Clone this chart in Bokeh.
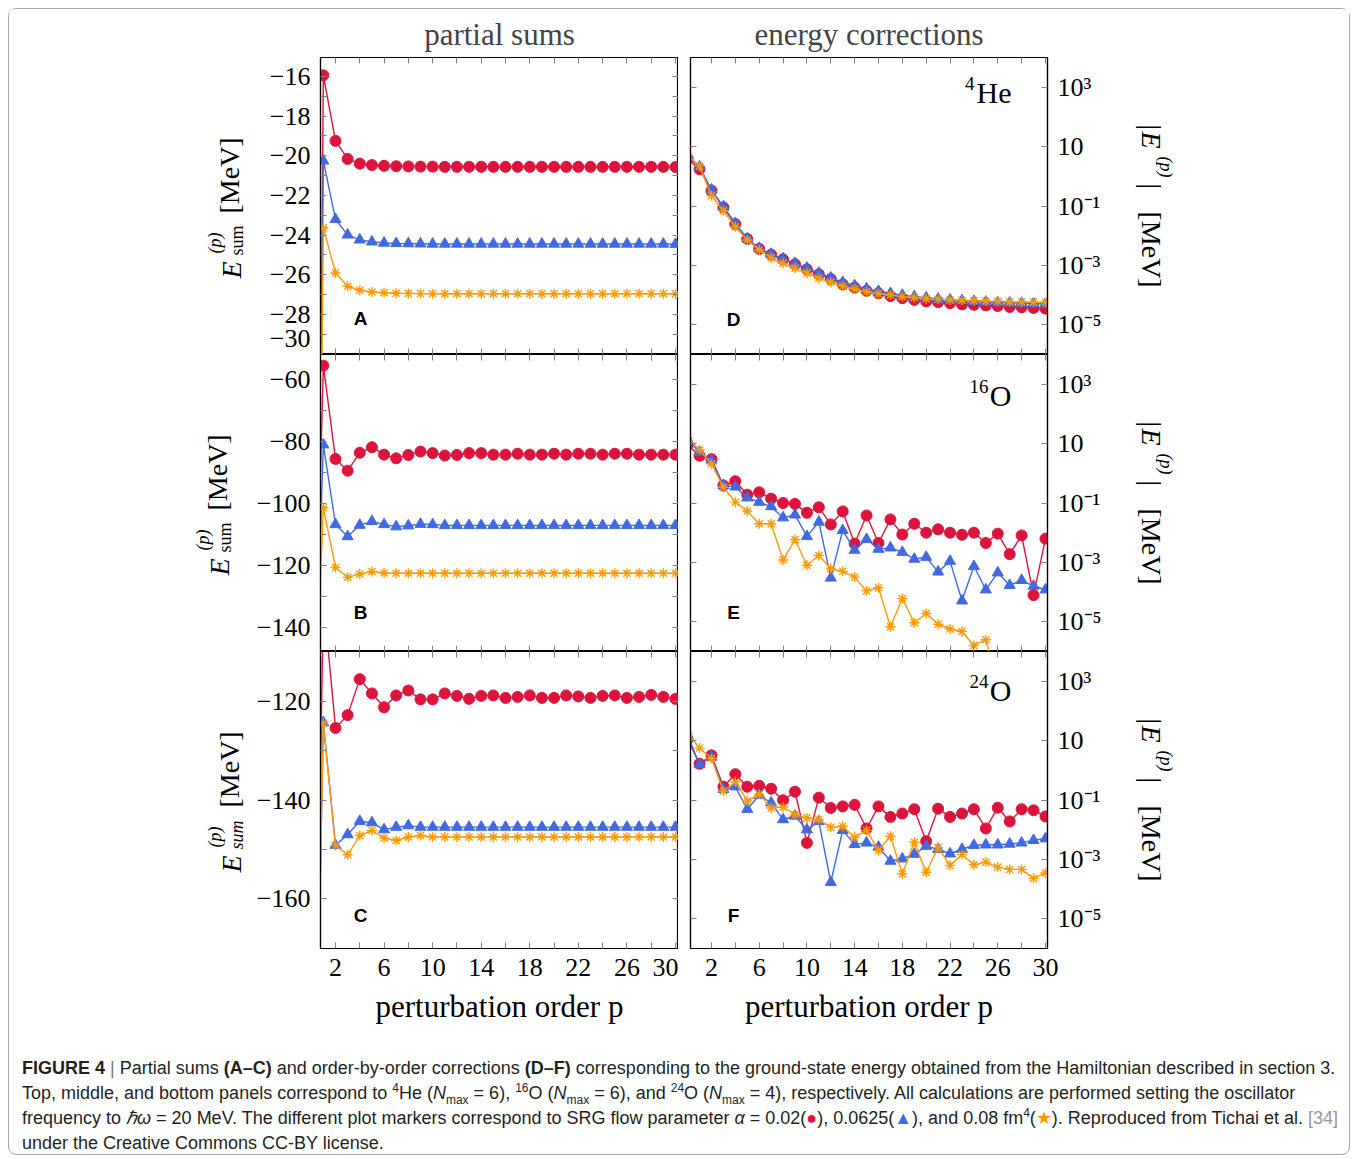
from bokeh.plotting import figure
from bokeh.models import (LinearAxis, LogAxis, FixedTicker, CustomJSTickFormatter,
                          Label, Div, Range1d)
from bokeh.core.properties import value
from bokeh.layouts import column, row
from bokeh.embed import file_html
from bokeh.resources import INLINE
import math

nan = float("nan")

# ---------------- data ----------------
orders = list(range(0, 31))

# partial sums, 4He
A_red = [-90, -15.95, -19.25, -20.16, -20.40, -20.47, -20.51, -20.53, -20.54, -20.55, -20.55,
         -20.56, -20.56, -20.56, -20.56, -20.56, -20.56, -20.56, -20.56, -20.56, -20.56,
         -20.56, -20.56, -20.56, -20.56, -20.56, -20.56, -20.56, -20.56, -20.56, -20.57]
A_blue = [-85, -20.26, -23.21, -23.99, -24.24, -24.34, -24.40, -24.42, -24.43, -24.44, -24.45,
          -24.45, -24.45, -24.45, -24.45, -24.45, -24.45, -24.45, -24.45, -24.45, -24.45,
          -24.45, -24.45, -24.45, -24.45, -24.45, -24.45, -24.45, -24.45, -24.45, -24.46]
A_orange = [-80, -23.63, -25.91, -26.58, -26.78, -26.87, -26.91, -26.93, -26.94, -26.95, -26.96,
            -26.96, -26.96, -26.96, -26.96, -26.96, -26.96, -26.96, -26.96, -26.96, -26.96,
            -26.96, -26.96, -26.96, -26.96, -26.96, -26.96, -26.96, -26.96, -26.96, -26.97]

# partial sums, 16O
B_red = [-200, -55.4, -85.6, -89.4, -83.6, -81.8, -84.2, -85.4, -84.3, -83.2, -83.7,
         -84.5, -84.3, -83.7, -83.7, -84.2, -84.2, -83.9, -84.2, -84.2, -83.9,
         -84.2, -83.9, -83.9, -84.2, -83.9, -83.9, -84.2, -84.2, -84.2, -84.2]
B_blue = [-200, -81.0, -106.8, -110.7, -107.0, -105.8, -106.8, -107.5, -107.2, -106.7, -106.8,
          -107.1, -107.1, -107.1, -107.1, -107.1, -107.1, -107.1, -107.1, -107.1, -107.1,
          -107.1, -107.1, -107.1, -107.1, -107.1, -107.1, -107.1, -107.1, -107.1, -107.1]
B_orange = [-200, -101.4, -120.7, -123.9, -122.8, -122.0, -122.5, -122.6, -122.6, -122.6, -122.6,
            -122.6, -122.6, -122.6, -122.6, -122.6, -122.6, -122.6, -122.6, -122.6, -122.6,
            -122.6, -122.6, -122.6, -122.6, -122.6, -122.6, -122.6, -122.6, -122.6, -122.6]

# partial sums, 24O
C_red = [-250, -99.0, -125.4, -122.8, -115.5, -118.4, -121.2, -118.8, -117.8, -119.6, -119.6,
         -118.4, -118.9, -119.5, -118.9, -118.8, -119.3, -119.1, -118.8, -119.3, -119.3,
         -118.8, -119.0, -119.3, -118.9, -118.8, -119.3, -119.1, -118.7, -119.1, -119.5]
C_blue = [-250, -124.3, -149.2, -147.0, -144.3, -144.6, -146.0, -145.5, -145.2, -145.5, -145.5,
          -145.5, -145.5, -145.5, -145.5, -145.5, -145.5, -145.5, -145.5, -145.5, -145.5,
          -145.5, -145.5, -145.5, -145.5, -145.5, -145.5, -145.5, -145.5, -145.5, -145.5]
C_orange = [-250, -124.5, -149.2, -151.1, -147.2, -146.2, -147.7, -148.2, -147.5, -147.2, -147.5,
            -147.5, -147.5, -147.5, -147.5, -147.5, -147.5, -147.5, -147.5, -147.5, -147.5,
            -147.5, -147.5, -147.5, -147.5, -147.5, -147.5, -147.5, -147.5, -147.5, -147.5]

# energy corrections |E(p)|, 4He
D_red = [3.9, 1.74, 0.33, 0.089, 0.0245, 7.8e-3, 3.6e-3, 2.3e-3, 1.6e-3, 1.1e-3, 7.4e-4,
         5.0e-4, 3.5e-4, 2.3e-4, 1.8e-4, 1.4e-4, 1.15e-4, 9.3e-5, 7.9e-5, 6.9e-5, 6.2e-5,
         5.8e-5, 5.4e-5, 4.9e-5, 4.7e-5, 4.5e-5, 4.3e-5, 4.0e-5, 3.9e-5, 3.7e-5, 3.5e-5]
D_blue = [4.4, 2.1, 0.35, 0.095, 0.026, 7.9e-3, 3.8e-3, 2.4e-3, 1.7e-3, 1.17e-3, 8.1e-4,
          5.5e-4, 3.8e-4, 2.7e-4, 2.1e-4, 1.65e-4, 1.35e-4, 1.15e-4, 1.0e-4, 8.9e-5, 8.1e-5,
          7.4e-5, 6.9e-5, 6.6e-5, 6.2e-5, 5.9e-5, 5.6e-5, 5.5e-5, 5.4e-5, 5.2e-5, 4.9e-5]
D_orange = [5.0, 2.2, 0.22, 0.069, 0.020, 7.2e-3, 3.3e-3, 1.8e-3, 1.17e-3, 8.1e-4, 5.5e-4,
            3.7e-4, 2.7e-4, 2.0e-4, 1.6e-4, 1.3e-4, 1.12e-4, 1.0e-4, 8.9e-5, 8.3e-5, 7.6e-5,
            7.2e-5, 6.9e-5, 6.7e-5, 6.6e-5, 6.3e-5, 6.2e-5, 6.0e-5, 5.9e-5, 5.8e-5, 5.8e-5]

# energy corrections, 16O
E_red = [9.1, 3.9, 3.0, 0.39, 0.54, 0.19, 0.23, 0.14, 0.10, 0.093, 0.047,
         0.072, 0.019, 0.052, 4.3e-3, 0.038, 4.5e-3, 0.028, 8.7e-3, 0.020, 0.010,
         0.013, 0.010, 8.5e-3, 0.010, 4.5e-3, 9.3e-3, 1.9e-3, 8.1e-3, 7.9e-5, 6.3e-3]
E_blue = [14, 5.1, 2.7, 0.39, 0.35, 0.15, 0.107, 0.076, 0.032, 0.040, 7.5e-3,
          0.023, 3.0e-4, 0.012, 2.6e-3, 6.0e-3, 2.8e-3, 3.1e-3, 2.2e-3, 1.3e-3, 1.5e-3,
          4.8e-4, 1.1e-3, 5.1e-5, 7.4e-4, 1.2e-4, 4.5e-4, 1.7e-4, 2.5e-4, 1.6e-4, 1.2e-4]
E_orange = [16, 6.2, 2.1, 0.34, 0.107, 0.054, 0.020, 0.020, 1.2e-3, 5.9e-3, 8.0e-4,
            1.7e-3, 6.2e-4, 5.0e-4, 3.2e-4, 1.1e-4, 1.4e-4, 6.8e-6, 6.1e-5, 9.3e-6, 1.9e-5,
            8.3e-6, 5.7e-6, 4.7e-6, 1.6e-6, 2.5e-6, 8e-8, nan, nan, nan, nan]

# energy corrections, 24O
F_red = [11, 1.66, 3.2, 0.28, 0.74, 0.28, 0.30, 0.24, 0.098, 0.19, 3.6e-3,
         0.12, 0.054, 0.061, 0.069, 0.011, 0.061, 0.027, 0.035, 0.049, 4.1e-3,
         0.051, 0.027, 0.035, 0.049, 0.011, 0.055, 0.019, 0.049, 0.045, 0.028]
F_blue = [15, 1.55, 2.8, 0.23, 0.28, 0.049, 0.145, 0.081, 0.022, 0.029, 0.010,
          0.019, 1.7e-4, 9.5e-3, 3.2e-3, 3.6e-3, 2.6e-3, 8.8e-4, 1.05e-3, 1.5e-3, 2.8e-3,
          2.2e-3, 1.55e-3, 2.2e-3, 3.0e-3, 3.1e-3, 3.1e-3, 3.3e-3, 3.6e-3, 4.4e-3, 5.0e-3]
F_orange = [18, 5.6, 2.5, 0.20, 0.41, 0.093, 0.155, 0.054, 0.058, 0.032, 0.025,
            0.022, 0.012, 0.013, 5.6e-3, 9.5e-3, 2.0e-3, 6.0e-3, 3.3e-4, 3.8e-3, 3.7e-4,
            2.5e-3, 6.3e-4, 1.45e-3, 6.6e-4, 8.1e-4, 5.5e-4, 4.6e-4, 4.6e-4, 2.3e-4, 3.5e-4]

x_ticks = [2, 6, 10, 14, 18, 22, 26, 30]
x_minor = [4, 8, 12, 16, 20, 24, 28]
A_ticks = [-28, -26, -24, -22, -20, -18, -16]
A_all = [-30, -29, -28, -27, -26, -25, -24, -23, -22, -21, -20, -19, -18, -17, -16, -15]
A_minor = [-30, -29, -27, -25, -23, -21, -19, -17]
B_ticks = [-140, -120, -100, -80, -60]
B_minor = [-130, -110, -90, -70]
C_ticks = [-160, -140, -120]
C_minor = [-150, -130]
log_ticks = [1e-5, 1e-3, 1e-1, 10, 1e3]

# ---------------- style ----------------
SERIF = "Liberation Serif"
RED, BLUE, ORANGE = "#DC143C", "#4169E1", "#FF9900"
TICKC = "#808080"
TICKFS = "26px"

minus_fmt = CustomJSTickFormatter(code="""
return (tick < 0 ? "\\u2212" : "") + Math.abs(tick).toFixed(0);
""")
# panel A: the "-30" label on the A/B boundary is lifted just inside panel A's canvas
A_LIFT = -29.2
A_fmt = CustomJSTickFormatter(args=dict(lift=A_LIFT), code="""
if (Math.abs(tick - lift) < 1e-6) { return "\\u221230"; }
return (tick < 0 ? "\\u2212" : "") + Math.abs(tick).toFixed(0);
""")
log_fmt = CustomJSTickFormatter(code="""
const e = Math.round(Math.log10(tick));
if (e == 1) { return "10"; }
const sup = {"-": "\\u207b", "0": "\\u2070", "1": "\\u00b9", "2": "\\u00b2", "3": "\\u00b3",
             "4": "\\u2074", "5": "\\u2075", "6": "\\u2076", "7": "\\u2077", "8": "\\u2078", "9": "\\u2079"};
return "10" + String(e).split("").map(c => sup[c]).join("");
""")
blank_fmt = CustomJSTickFormatter(code='return "";')

LX = (0.765, 30.25)
RX = (0.24, 30.17)
LOGY = (1e-6, 1e4)


def add_axis(p, side, ticks, minor=None, log=False, show=False, formatter=None,
             label=None, label_standoff=10, major_in=6):
    Ax = LogAxis if log else LinearAxis
    ax = Ax(ticker=FixedTicker(ticks=ticks, minor_ticks=minor or []))
    ax.axis_line_color = "black"
    ax.axis_line_width = 1.2
    ax.major_tick_in = major_in
    ax.major_tick_out = 0
    ax.minor_tick_in = 6
    ax.minor_tick_out = 0
    ax.major_tick_line_color = TICKC
    ax.minor_tick_line_color = TICKC
    if show:
        if formatter is not None:
            ax.formatter = formatter
        ax.major_label_text_font = SERIF
        ax.major_label_text_font_size = TICKFS
        ax.major_label_text_color = "black"
        ax.major_label_standoff = 10
    else:
        ax.formatter = blank_fmt
        ax.major_label_text_font_size = "1px"
        ax.major_label_standoff = 0
    if label:
        ax.axis_label = label
        ax.axis_label_text_font = SERIF
        ax.axis_label_text_font_size = "31px"
        ax.axis_label_text_font_style = "normal"
        ax.axis_label_text_color = "black"
        ax.axis_label_standoff = label_standoff
    p.add_layout(ax, side)
    return ax


def make_fig(width, height, xr, yr, log, mbl, mbr, mbt, mbb):
    p = figure(width=width, height=height, x_range=Range1d(*xr), y_range=Range1d(*yr),
               y_axis_type="log" if log else "linear",
               x_axis_location=None, y_axis_location=None,
               toolbar_location=None, output_backend="svg",
               min_border_left=mbl, min_border_right=mbr,
               min_border_top=mbt, min_border_bottom=mbb)
    p.grid.visible = False
    p.outline_line_color = "black"
    p.outline_line_width = 1.2
    p.background_fill_color = "white"
    p.border_fill_color = "white"
    return p


def draw_series(p, red, blue, orange):
    p.line(orders, red, color=RED, line_width=1.4)
    p.scatter(orders, red, marker="circle", size=11, color=RED)
    p.line(orders, blue, color=BLUE, line_width=1.4)
    p.scatter(orders, blue, marker="triangle", size=11, color=BLUE)
    p.line(orders, orange, color=ORANGE, line_width=1.4)
    p.scatter(orders, orange, marker="asterisk", size=10, line_color=ORANGE, line_width=1.4)


def letter(p, txt, x, y):
    p.add_layout(Label(x=x, y=y, text=txt, text_font="Liberation Sans", text_font_style="bold",
                       text_font_size="19px", text_align="center", text_baseline="middle",
                       text_color="black"))


# text placed inside a frame relative to its left edge / vertical centre (page pixels)
def piece(p, xr, yr, log, frame_left, frame_cy, sx, sy, text, size, align="left"):
    ymid = 10 ** ((math.log10(yr[0]) + math.log10(yr[1])) / 2) if log else (yr[0] + yr[1]) / 2
    p.add_layout(Label(x=xr[0], y=ymid, x_offset=sx - frame_left, y_offset=frame_cy - sy,
                       text=text, text_font=SERIF, text_font_size=size,
                       text_align=align, text_baseline="middle", text_color="black"))


def nuclide(p, cy, sup, name, sup_right, dy):
    piece(p, RX, LOGY, True, 690, cy, 1011, 92 + dy, name, "30px", align="right")
    piece(p, RX, LOGY, True, 690, cy, sup_right, 83 + dy, sup, "19px", align="right")


LW, RW = 428, 444
XL = "perturbation order p"
CY = [205.5, 502.5, 799.5]


def set_title(p, text):
    p.title.text = text
    p.title.align = "center"
    p.title.text_font = SERIF
    p.title.text_font_size = "31px"
    p.title.text_font_style = "normal"
    p.title.standoff = 11


# ---- left column ----
A_Y = (-30.02, -15.05)
pA = make_fig(LW, 345, LX, A_Y, False, 70, 0, 48, 0)
set_title(pA, "partial sums")
add_axis(pA, "left", A_ticks + [A_LIFT], A_all, show=True, formatter=A_fmt, major_in=0)
add_axis(pA, "right", A_ticks, A_minor)
add_axis(pA, "above", x_ticks, x_minor)
add_axis(pA, "below", x_ticks, x_minor)
draw_series(pA, A_red, A_blue, A_orange)
letter(pA, "A", 4.06, -28.2)

B_Y = (-147.9, -51.8)
pB = make_fig(LW, 297, LX, B_Y, False, 70, 0, 0, 0)
add_axis(pB, "left", B_ticks, B_minor, show=True, formatter=minus_fmt)
add_axis(pB, "right", B_ticks, B_minor)
add_axis(pB, "above", x_ticks, x_minor)
add_axis(pB, "below", x_ticks, x_minor)
draw_series(pB, B_red, B_blue, B_orange)
letter(pB, "B", 4.06, -135.3)

C_Y = (-170.1, -109.9)
pC = make_fig(LW, 389, LX, C_Y, False, 70, 0, 0, 92)
add_axis(pC, "left", C_ticks, C_minor, show=True)
add_axis(pC, "right", C_ticks, C_minor)
add_axis(pC, "above", x_ticks, x_minor)
add_axis(pC, "below", x_ticks, x_minor, show=True, label=XL, label_standoff=10)
draw_series(pC, C_red, C_blue, C_orange)
letter(pC, "C", 4.06, -163.4)

# ---- right column ----
pD = make_fig(RW, 345, RX, LOGY, True, 12, 75, 48, 0)
set_title(pD, "energy corrections")
add_axis(pD, "left", log_ticks, log=True)
add_axis(pD, "right", log_ticks, log=True, show=True, formatter=log_fmt)
add_axis(pD, "above", x_ticks, x_minor)
add_axis(pD, "below", x_ticks, x_minor)
draw_series(pD, D_red, D_blue, D_orange)
letter(pD, "D", 3.85, 1.5e-5)
nuclide(pD, CY[0], "4", "He", 974, 0)

pE = make_fig(RW, 297, RX, LOGY, True, 12, 75, 0, 0)
add_axis(pE, "left", log_ticks, log=True)
add_axis(pE, "right", log_ticks, log=True, show=True, formatter=log_fmt)
add_axis(pE, "above", x_ticks, x_minor)
add_axis(pE, "below", x_ticks, x_minor)
draw_series(pE, E_red, E_blue, E_orange)
letter(pE, "E", 3.85, 2.1e-5)
nuclide(pE, CY[1], "16", "O", 988, 303)

pF = make_fig(RW, 389, RX, LOGY, True, 12, 75, 0, 92)
add_axis(pF, "left", log_ticks, log=True)
add_axis(pF, "right", log_ticks, log=True, show=True, formatter=log_fmt)
add_axis(pF, "above", x_ticks, x_minor)
add_axis(pF, "below", x_ticks, x_minor, show=True, label=XL, label_standoff=10)
draw_series(pF, F_red, F_blue, F_orange)
letter(pF, "F", 3.85, 1.3e-5)
nuclide(pF, CY[2], "24", "O", 988, 598)

# ---- strips holding the composed y-axis titles (data units = page pixels) ----
STRIP_H = 345 + 297 + 389


def make_strip(x0, x1):
    s = figure(width=x1 - x0, height=STRIP_H, x_range=Range1d(x0, x1),
               y_range=Range1d(9 + STRIP_H, 9), x_axis_location=None, y_axis_location=None,
               toolbar_location=None, output_backend="svg",
               min_border_left=0, min_border_right=0, min_border_top=0, min_border_bottom=0)
    s.grid.visible = False
    s.outline_line_color = None
    s.background_fill_color = "white"
    s.border_fill_color = "white"
    return s


def stext(s, x, y, text, size, angle, style="normal"):
    s.text(x=[x], y=[y], text=[text], angle=angle, text_font=value(SERIF),
           text_font_size=value(size), text_font_style=style, text_align="left",
           text_baseline="middle", text_color="black")


left_strip = make_strip(9, 250)
for dy, dx, sub_style in [(0, 0, "normal"), (297, -12, "normal"), (594, 0, "italic")]:
    a = math.pi / 2
    stext(left_strip, 231 + dx, 278 + dy, "E", "28px", a, "italic")
    stext(left_strip, 214 + dx, 253 + dy, "(p)", "18px", a, "italic")
    stext(left_strip, 236 + dx, 255 + dy, "sum", "18px", a, sub_style)
    stext(left_strip, 229 + dx, 213 + dy, "[MeV]", "28px", a)

right_strip = make_strip(1122, 1349)
for dy in [0, 297, 594]:
    a = -math.pi / 2
    stext(right_strip, 1151, 124 + dy, "|", "28px", a)
    stext(right_strip, 1151, 131 + dy, "E", "28px", a, "italic")
    stext(right_strip, 1165, 156 + dy, "(p)", "18px", a, "italic")
    stext(right_strip, 1151, 183 + dy, "|", "28px", a)
    stext(right_strip, 1151, 211 + dy, "[MeV]", "28px", a)

SUP = '<sup style="font-size:12px;line-height:0">'
SUB = '<sub style="font-size:12px;line-height:0">'
caption_html = f"""
<div style="font-family:'Liberation Sans',Arial,sans-serif;font-size:18px;line-height:25px;
color:#231f20;white-space:nowrap;padding:11px 0 0 8px;">
<b>FIGURE 4</b> <span style="color:#777">|</span> Partial sums <b>(A&ndash;C)</b> and order-by-order corrections <b>(D&ndash;F)</b> corresponding to the ground-state energy obtained from the Hamiltonian described in section 3.<br>
Top, middle, and bottom panels correspond to {SUP}4</sup>He (<i>N</i>{SUB}max</sub> = 6), {SUP}16</sup>O (<i>N</i>{SUB}max</sub> = 6), and {SUP}24</sup>O (<i>N</i>{SUB}max</sub> = 4), respectively. All calculations are performed setting the oscillator<br>
frequency to <i>&#8463;&omega;</i> = 20 MeV. The different plot markers correspond to SRG flow parameter <i>&alpha;</i> = 0.02(<span style="color:#DC143C">&#9679;</span>), 0.0625(<span style="color:#4169E1">&#9650;</span>), and 0.08 fm{SUP}4</sup>(<span style="color:#FF9900">&#9733;</span>). Reproduced from Tichai et al. <span style="color:#999">[34]</span><br>
under the Creative Commons CC-BY license.
</div>
"""
caption = Div(text=caption_html, width=1340, height=113)

layout = column(
    row(left_strip, column(pA, pB, pC, spacing=0), column(pD, pE, pF, spacing=0), right_strip,
        spacing=0),
    caption,
    spacing=0,
    width=1342, height=1147,
    margin=(8, 8, 4, 8),
    styles={"border": "1px solid #a8a8a8", "border-radius": "8px"},
)

open("out.html", "w").write(file_html(layout, INLINE))
